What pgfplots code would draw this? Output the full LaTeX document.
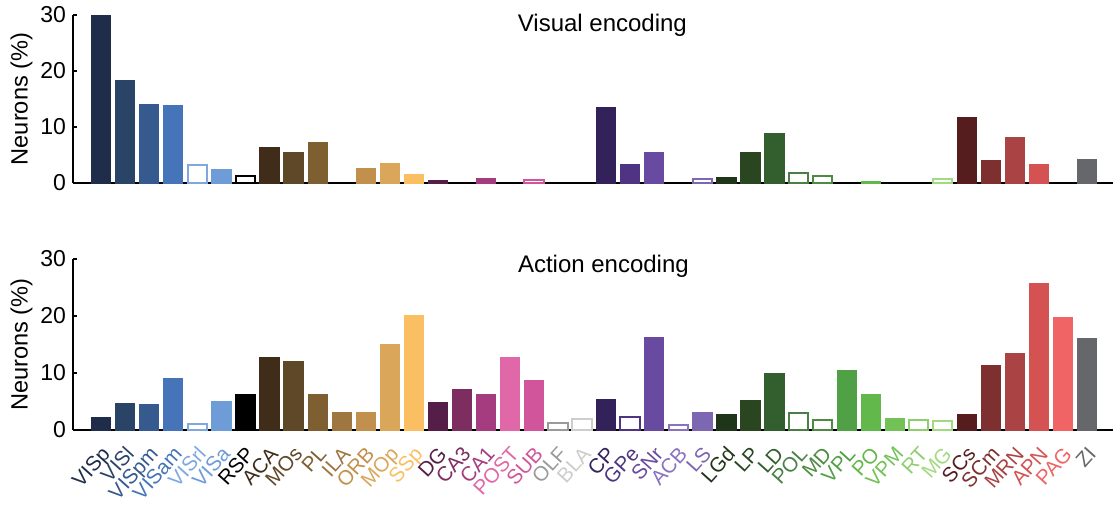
\documentclass[border=0pt]{standalone}
\usepackage{pgfplots}
\pgfplotsset{compat=1.18}
\usepackage{fontspec}
\setmainfont{Liberation Sans}

\definecolor{cVISp}{HTML}{1F2D4A}
\definecolor{cVISl}{HTML}{2A4468}
\definecolor{cVISpm}{HTML}{365A8E}
\definecolor{cVISam}{HTML}{4674B8}
\definecolor{cVISrl}{HTML}{80A8E0}
\definecolor{cVISa}{HTML}{6E9CD6}
\definecolor{cRSP}{HTML}{000000}
\definecolor{cACA}{HTML}{3F2D1A}
\definecolor{cMOs}{HTML}{5E4827}
\definecolor{cPL}{HTML}{7E5F32}
\definecolor{cILA}{HTML}{A07640}
\definecolor{cORB}{HTML}{C0904C}
\definecolor{cMOp}{HTML}{DAA65A}
\definecolor{cSSp}{HTML}{FBBF63}
\definecolor{cDG}{HTML}{551E48}
\definecolor{cCAthree}{HTML}{7E2D60}
\definecolor{cCAone}{HTML}{A53C80}
\definecolor{cPOST}{HTML}{E068A8}
\definecolor{cSUB}{HTML}{D0559A}
\definecolor{cOLF}{HTML}{9A9A9A}
\definecolor{cBLA}{HTML}{CDCDCD}
\definecolor{cCP}{HTML}{33215A}
\definecolor{cGPe}{HTML}{4F3484}
\definecolor{cSNr}{HTML}{684AA0}
\definecolor{cACB}{HTML}{8A72C0}
\definecolor{cLS}{HTML}{7D66B2}
\definecolor{cLGd}{HTML}{1F3519}
\definecolor{cLP}{HTML}{294621}
\definecolor{cLD}{HTML}{335E2D}
\definecolor{cPOL}{HTML}{4A7F45}
\definecolor{cMD}{HTML}{4E8A40}
\definecolor{cVPL}{HTML}{50A046}
\definecolor{cPO}{HTML}{62B84A}
\definecolor{cVPM}{HTML}{72C257}
\definecolor{cRT}{HTML}{8ECE6E}
\definecolor{cMG}{HTML}{A2DA82}
\definecolor{cSCs}{HTML}{561D1E}
\definecolor{cSCm}{HTML}{7E2F2F}
\definecolor{cMRN}{HTML}{AA4343}
\definecolor{cAPN}{HTML}{D55252}
\definecolor{cPAG}{HTML}{F06465}
\definecolor{cZI}{HTML}{66676B}

\newcommand{\fb}[3]{\addplot[fill=#1,draw=#1,line width=0.3pt,bar shift=0pt] coordinates {(#2,#3)};}
\newcommand{\hb}[3]{\addplot[fill=white,draw=#1,line width=1pt,bar shift=0pt] coordinates {(#2,#3)};}

\pgfplotsset{myax/.style={
  scale only axis, width=520pt,
  xmin=-1.164, xmax=42.08, ymin=0, ymax=30,
  axis x line=bottom, axis y line=left,
  axis line style={-, line width=1pt, black},
  ytick={0,10,20,30}, tick align=inside, major tick length=2pt,
  ytick style={line width=0.8pt, black},
  xtick style={draw=none},
  ybar, bar width=0.8,
  yticklabel style={font=\fontsize{11.5}{13}\selectfont},
  /pgf/number format/assume math mode=true,
  ylabel={Neurons (\%)},
  ylabel style={font=\fontsize{11.8}{13}\selectfont, at={(axis description cs:-0.0385,0.5)}, anchor=south, inner sep=0pt},
  title style={font=\fontsize{12}{14}\selectfont, anchor=center},
  clip=false,
}}

\begin{document}
\begin{tikzpicture}
\useasboundingbox (0,0) rectangle (556.5pt,-252pt);
% Visual encoding
\begin{axis}[myax, at={(36.5pt,-91.5pt)}, anchor=south west, height=84pt,
  xtick=\empty,
  title={Visual encoding}, title style={at={(axis description cs:0.509,1)}, yshift=-11pt}]
\fb{cVISp}{0}{29.9}
\fb{cVISl}{1}{18.3}
\fb{cVISpm}{2}{14.1}
\fb{cVISam}{3}{13.9}
\hb{cVISrl}{4}{3.3}
\fb{cVISa}{5}{2.4}
\hb{cRSP}{6}{1.2}
\fb{cACA}{7}{6.4}
\fb{cMOs}{8}{5.4}
\fb{cPL}{9}{7.3}
\fb{cORB}{11}{2.7}
\fb{cMOp}{12}{3.6}
\fb{cSSp}{13}{1.5}
\fb{cDG}{14}{0.4}
\fb{cCAone}{16}{0.9}
\hb{cSUB}{18}{0.6}
\fb{cCP}{21}{13.5}
\fb{cGPe}{22}{3.4}
\fb{cSNr}{23}{5.4}
\hb{cLS}{25}{0.8}
\fb{cLGd}{26}{1.0}
\fb{cLP}{27}{5.4}
\fb{cLD}{28}{8.9}
\hb{cPOL}{29}{1.8}
\hb{cMD}{30}{1.2}
\fb{cPO}{32}{0.3}
\hb{cMG}{35}{0.8}
\fb{cSCs}{36}{11.7}
\fb{cSCm}{37}{4.0}
\fb{cMRN}{38}{8.2}
\fb{cAPN}{39}{3.3}
\fb{cZI}{41}{4.3}
\end{axis}
% Action encoding
\begin{axis}[myax, at={(36.5pt,-215pt)}, anchor=south west, height=85.5pt,
  title={Action encoding}, title style={at={(axis description cs:0.51,1)}, yshift=-9.75pt},
  xtick={0,...,41},
  xticklabels={\textcolor{cVISp}{VISp},\textcolor{cVISl}{VISl},\textcolor{cVISpm}{VISpm},\textcolor{cVISam}{VISam},\textcolor{cVISrl}{VISrl},\textcolor{cVISa}{VISa},\textcolor{cRSP}{RSP},\textcolor{cACA}{ACA},\textcolor{cMOs}{MOs},\textcolor{cPL}{PL},\textcolor{cILA}{ILA},\textcolor{cORB}{ORB},\textcolor{cMOp}{MOp},\textcolor{cSSp}{SSp},\textcolor{cDG}{DG},\textcolor{cCAthree}{CA3},\textcolor{cCAone}{CA1},\textcolor{cPOST}{POST},\textcolor{cSUB}{SUB},\textcolor{cOLF}{OLF},\textcolor{cBLA}{BLA},\textcolor{cCP}{CP},\textcolor{cGPe}{GPe},\textcolor{cSNr}{SNr},\textcolor{cACB}{ACB},\textcolor{cLS}{LS},\textcolor{cLGd}{LGd},\textcolor{cLP}{LP},\textcolor{cLD}{LD},\textcolor{cPOL}{POL},\textcolor{cMD}{MD},\textcolor{cVPL}{VPL},\textcolor{cPO}{PO},\textcolor{cVPM}{VPM},\textcolor{cRT}{RT},\textcolor{cMG}{MG},\textcolor{cSCs}{SCs},\textcolor{cSCm}{SCm},\textcolor{cMRN}{MRN},\textcolor{cAPN}{APN},\textcolor{cPAG}{PAG},\textcolor{cZI}{ZI}},
  xticklabel style={font=\fontsize{10.3}{12}\selectfont, xshift=2.5pt, yshift=-8pt, rotate=48, anchor=east, inner sep=0pt, text height=0.72em, text depth=0pt}]
\fb{cVISp}{0}{2.2}
\fb{cVISl}{1}{4.7}
\fb{cVISpm}{2}{4.5}
\fb{cVISam}{3}{9.1}
\hb{cVISrl}{4}{1.05}
\fb{cVISa}{5}{5.0}
\fb{cRSP}{6}{6.3}
\fb{cACA}{7}{12.7}
\fb{cMOs}{8}{12.0}
\fb{cPL}{9}{6.2}
\fb{cILA}{10}{3.1}
\fb{cORB}{11}{3.1}
\fb{cMOp}{12}{15.1}
\fb{cSSp}{13}{20.2}
\fb{cDG}{14}{4.9}
\fb{cCAthree}{15}{7.2}
\fb{cCAone}{16}{6.3}
\fb{cPOST}{17}{12.7}
\fb{cSUB}{18}{8.8}
\hb{cOLF}{19}{1.2}
\hb{cBLA}{20}{1.9}
\fb{cCP}{21}{5.3}
\hb{cGPe}{22}{2.2}
\fb{cSNr}{23}{16.3}
\hb{cACB}{24}{0.9}
\fb{cLS}{25}{3.1}
\fb{cLGd}{26}{2.7}
\fb{cLP}{27}{5.2}
\fb{cLD}{28}{10.0}
\hb{cPOL}{29}{2.9}
\hb{cMD}{30}{1.7}
\fb{cVPL}{31}{10.4}
\fb{cPO}{32}{6.3}
\fb{cVPM}{33}{2.0}
\hb{cRT}{34}{1.8}
\hb{cMG}{35}{1.6}
\fb{cSCs}{36}{2.7}
\fb{cSCm}{37}{11.3}
\fb{cMRN}{38}{13.5}
\fb{cAPN}{39}{25.7}
\fb{cPAG}{40}{19.7}
\fb{cZI}{41}{16.1}
\end{axis}
\end{tikzpicture}
\end{document}
